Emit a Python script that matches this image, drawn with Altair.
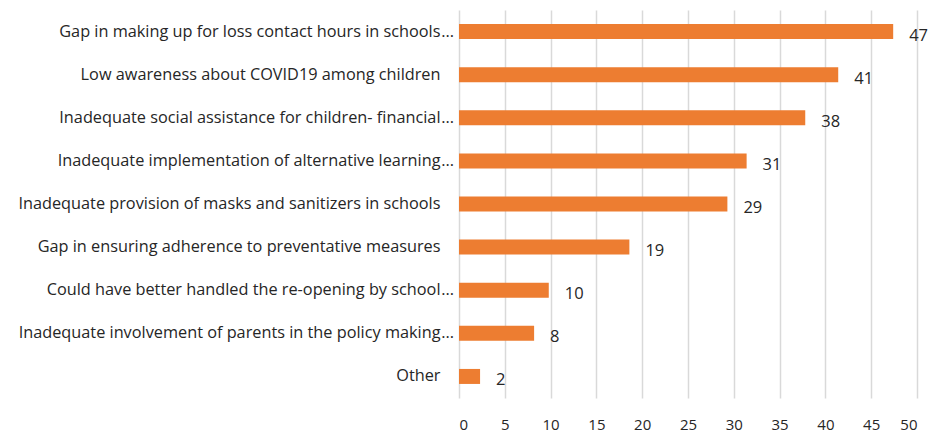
import altair as alt
import pandas as pd

categories = [
    "Gap in making up for loss contact hours in schools",
    "Low awareness about COVID19 among children",
    "Inadequate social assistance for children- financial",
    "Inadequate implementation of alternative learning",
    "Inadequate provision of masks and sanitizers in schools",
    "Gap in ensuring adherence to preventative measures",
    "Could have better handled the re-opening by school",
    "Inadequate involvement of parents in the policy making",
    "Other",
]
suffixes = ["...", "", "...", "...", "", "", "...", "...", ""]
values = [47.4, 41.4, 37.8, 31.4, 29.3, 18.6, 9.8, 8.2, 2.3]
labels = ["47", "41", "38", "31", "29", "19", "10", "8", "2"]
ticks = [0, 5, 10, 15, 20, 25, 30, 35, 40, 45, 50]

df = pd.DataFrame({
    "category": categories,
    "suffix": suffixes,
    "value": values,
    "label": labels,
    "zero": [0] * len(categories),
})

FONT = "Open Sans"
TEXT = "#262626"
ORANGE = "#ED7D31"

y_enc = alt.Y(
    "category:N",
    sort=categories,
    title=None,
    axis=alt.Axis(
        ticks=False, domain=False, grid=False,
        labelPadding=19, labelFont=FONT, labelFontSize=16.3,
        labelColor=TEXT, labelLimit=500,
    ),
)
x_scale = alt.Scale(domain=[0, 50], nice=False)

base = alt.Chart(df)

bars = base.mark_bar(color=ORANGE, size=15).encode(
    x=alt.X(
        "value:Q",
        scale=x_scale,
        title=None,
        axis=alt.Axis(
            values=ticks, ticks=False, domain=False, grid=True,
            gridColor="#d9d9d9", gridWidth=1.5,
            labelPadding=19, labelFont=FONT, labelFontSize=15,
            labelColor=TEXT,
        ),
    ),
    y=y_enc,
)

value_text = base.mark_text(
    align="left", baseline="alphabetic", dx=16, dy=9,
    font=FONT, fontSize=16.5, color=TEXT,
).encode(
    x=alt.X("value:Q", scale=x_scale),
    y=alt.Y("category:N", sort=categories),
    text="label:N",
)

ellipsis_text = base.mark_text(
    align="right", baseline="middle", dx=-5,
    font=FONT, fontSize=16.3, color=TEXT,
).encode(
    x=alt.X("zero:Q", scale=x_scale),
    y=alt.Y("category:N", sort=categories),
    text="suffix:N",
)

chart = alt.layer(bars, value_text, ellipsis_text).properties(
    width=458,
    height=388,
    autosize=alt.AutoSizeParams(type="none"),
    padding={"left": 459, "top": 10, "right": 12, "bottom": 35},
).configure_view(stroke=None)

chart.save("out.html", embed_options={"renderer": "svg", "actions": False})
